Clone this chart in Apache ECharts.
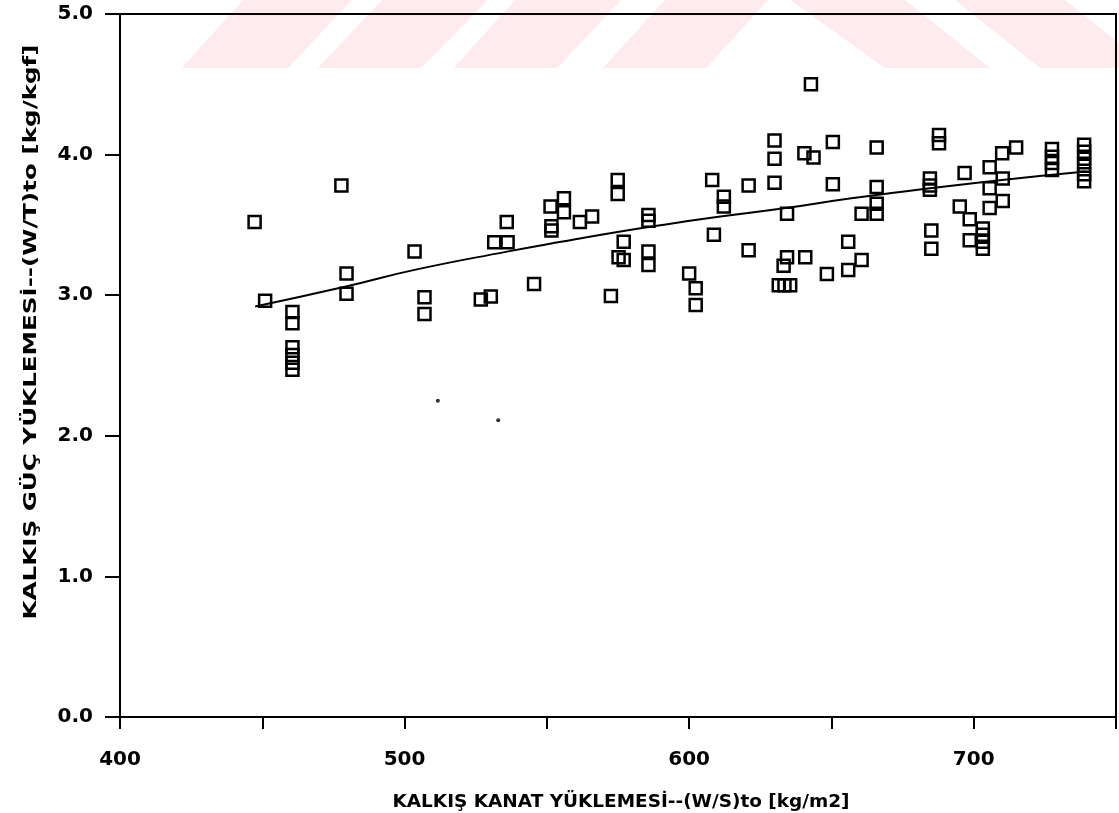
<!DOCTYPE html>
<html>
<head>
<meta charset="utf-8">
<script src="https://cdn.jsdelivr.net/npm/echarts@6/dist/echarts.min.js"></script>
<style>
html,body{margin:0;padding:0;background:#fff;}
#chart{width:1119px;height:813px;}
</style>
</head>
<body>
<div id="chart"></div>
<script>
// ---- data ----
const xTickValues = [400, 500, 600, 700];
const yTickValues = [0, 1, 2, 3, 4, 5];
const xAxisTitle = 'KALKIŞ KANAT YÜKLEMESİ--(W/S)to [kg/m2]';
const yAxisTitle = 'KALKIŞ GÜÇ YÜKLEMESİ--(W/T)to [kg/kgf]';

const squareX = [
  447.3, 451.0, 460.6, 460.6, 460.6, 460.6, 460.6, 460.6, 477.8, 479.6, 479.6,
  503.5, 507.0, 507.0, 526.8, 530.3, 535.9, 531.5, 536.2, 545.5, 551.3, 551.6,
  551.6, 556.0, 556.0, 561.6, 565.9, 574.9, 574.9, 577.0, 575.2, 577.0, 572.5,
  585.7, 585.7, 585.7, 585.7,
  600.0, 602.3, 602.3, 608.1, 612.2, 612.2, 608.7, 620.9, 620.9, 630.0, 630.0,
  630.0, 634.4, 634.4, 633.2, 640.8, 631.5, 633.5, 635.5, 642.8, 640.5, 643.7,
  648.4, 650.5, 650.5, 655.9, 655.9, 660.6, 660.6, 665.9, 665.9, 665.9, 665.9,
  684.6, 684.6, 684.6, 685.1, 685.1, 687.8, 687.8, 695.1, 696.8, 698.6, 698.6,
  703.2, 703.2, 703.2, 703.2, 705.6, 705.6, 705.6, 710.0, 710.2, 710.2, 714.9,
  727.5, 727.5, 727.5, 727.5, 738.8, 738.8, 738.8, 738.8, 738.8, 738.8
];
const squareY = [
  3.52, 2.96, 2.88, 2.80, 2.63, 2.575, 2.52, 2.47, 3.78, 3.155, 3.01,
  3.31, 2.985, 2.866, 2.97, 2.99, 3.52, 3.376, 3.376, 3.08, 3.63, 3.49,
  3.46, 3.69, 3.59, 3.52, 3.56, 3.82, 3.72, 3.38, 3.27, 3.25, 2.995,
  3.57, 3.53, 3.31, 3.215,
  3.155, 3.05, 2.93, 3.82, 3.70, 3.63, 3.43, 3.78, 3.32, 4.10, 3.97,
  3.80, 3.58, 3.27, 3.21, 3.27, 3.07, 3.07, 3.07, 4.50, 4.01, 3.98,
  3.15, 4.09, 3.79, 3.38, 3.18, 3.25, 3.58, 4.05, 3.77, 3.65, 3.58,
  3.83, 3.78, 3.75, 3.46, 3.33, 4.14, 4.08, 3.63, 3.87, 3.54, 3.39,
  3.475, 3.43, 3.38, 3.33, 3.91, 3.76, 3.62, 4.01, 3.83, 3.67, 4.05,
  4.04, 3.985, 3.94, 3.89, 4.07, 4.02, 3.97, 3.92, 3.86, 3.81
];

const dotX = [511.7, 532.9];
const dotY = [2.25, 2.11];

const fitX = [447.5, 479.0, 503.5, 536.0, 555.0, 578.0, 594.0, 611.0, 634.0, 657.0, 684.6, 710.0, 739.4];
const fitY = [2.92, 3.06, 3.18, 3.31, 3.38, 3.46, 3.51, 3.56, 3.62, 3.69, 3.76, 3.82, 3.88];

// ---- chart ----
const chart = echarts.init(document.getElementById('chart'), null, {renderer: 'canvas'});
const FONT = 'DejaVu Sans';
const TITLE_FONT = 'bold 17px "' + FONT + '"';
const pink = '#fdebee';

function textWidth(str, font) {
  const c = document.createElement('canvas').getContext('2d');
  c.font = font;
  return c.measureText(str).width;
}
function stripe(pts) {
  return {type: 'polygon', silent: true, z: -10, shape: {points: pts}, style: {fill: pink}};
}
const xTitleScale = 457 / textWidth(xAxisTitle, TITLE_FONT);
const yTitleScale = 575 / textWidth(yAxisTitle, TITLE_FONT);

const option = {
  backgroundColor: '#fff',
  animation: false,
  grid: {left: 120, right: 1, top: 14, bottom: 96, show: true, borderColor: '#000', borderWidth: 2, backgroundColor: 'transparent'},
  graphic: [
    stripe([[182,68],[288,68],[352,0],[243,0]]),
    stripe([[318,68],[421,68],[488,0],[382,0]]),
    stripe([[454,68],[557,68],[621,0],[515,0]]),
    stripe([[603,68],[706,68],[768,0],[665,0]]),
    stripe([[790,0],[905,0],[990,68],[885,68]]),
    stripe([[955,0],[1065,0],[1150,68],[1040,68]]),
    {
      type: 'text', silent: true, x: 32, y: 332, rotation: Math.PI / 2, scaleX: yTitleScale,
      style: {text: yAxisTitle, font: TITLE_FONT, fill: '#000', align: 'center', verticalAlign: 'middle'}
    },
    {
      type: 'text', silent: true, x: 621, y: 803, scaleX: xTitleScale,
      style: {text: xAxisTitle, font: TITLE_FONT, fill: '#000', align: 'center', verticalAlign: 'middle'}
    }
  ],
  xAxis: {
    type: 'value', min: 400, max: 750, interval: 50,
    axisLine: {show: true, lineStyle: {color: '#000', width: 2}},
    axisTick: {show: true, length: 12, lineStyle: {color: '#000', width: 2}},
    axisLabel: {
      margin: 33, fontFamily: FONT, fontWeight: 'bold', fontSize: 20, color: '#000',
      formatter: v => (xTickValues.indexOf(v) >= 0 ? String(v) : '')
    },
    splitLine: {show: false}
  },
  yAxis: {
    type: 'value', min: 0, max: 5, interval: 1,
    axisLine: {show: true, lineStyle: {color: '#000', width: 2}},
    axisTick: {show: true, length: 15, lineStyle: {color: '#000', width: 2}},
    axisLabel: {
      margin: 27, fontFamily: FONT, fontWeight: 'bold', fontSize: 20, color: '#000',
      formatter: v => (yTickValues.indexOf(v) >= 0 ? v.toFixed(1) : '')
    },
    splitLine: {show: false}
  },
  series: [
    {
      type: 'line', data: fitX.map((x, i) => [x, fitY[i]]), smooth: 0.5, showSymbol: false, symbol: 'none',
      lineStyle: {color: '#000', width: 2}, z: 3
    },
    {
      type: 'scatter', data: squareX.map((x, i) => [x, squareY[i]]), symbol: 'rect', symbolSize: 12,
      itemStyle: {color: 'rgba(255,255,255,0)', borderColor: '#000', borderWidth: 2.5, opacity: 1}, z: 4
    },
    {
      type: 'scatter', data: dotX.map((x, i) => [x, dotY[i]]), symbol: 'circle', symbolSize: 4,
      itemStyle: {color: '#000'}, z: 4
    }
  ]
};
chart.setOption(option);
</script>
</body>
</html>
